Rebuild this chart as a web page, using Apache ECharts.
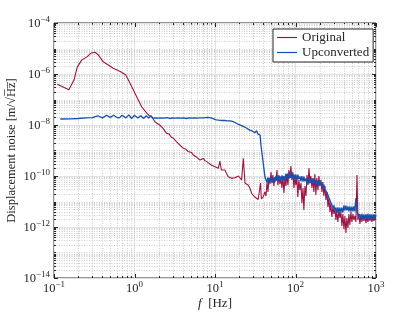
<!DOCTYPE html>
<html><head><meta charset="utf-8">
<script src="https://cdn.jsdelivr.net/npm/echarts@6/dist/echarts.min.js"></script>
<style>html,body{margin:0;padding:0;background:#fff}#c{width:415px;height:312px}</style>
</head><body><div id="c"></div>
<script>
// ---- data ----
const origFreq = [0.11,0.153,0.177,0.195,0.221,0.259,0.286,0.323,0.355,0.409,0.545,0.674,0.78,0.879,0.97,1.064,1.228,1.418,1.52,1.62,
1.79,2.05,2.25,2.5,2.7,2.85,3.05,3.34,3.5,3.66,3.85,4.04,4.3,4.63,4.9,5.1,5.37,5.6,5.86,6.2,6.51,6.8,7.16,7.5,7.88,8.4,8.98,9.5,10.0,10.5,11.0,11.5,12.0,12.6,13.3,14.0,14.6,15.4,16.1,16.9,17.7,18.6,19.5,20.4,21.4,22.5,23.6,24.6,25.8,27.2,28.5,29.8,31.2,32.7,34.4,36.1,36.8,37.7,39.8,41.8,
43.0,44.3,45.5,46.8,48.2,49.6,50.9,52.4,53.9,55.5,57.1,58.8,60.5,62.2,64.0,65.9,67.8,69.8,71.8,73.9,76.0,78.2,80.5,82.8,85.2,87.7,90.2,92.8,95.6,98.3,
101,104,107,110,113.5,117,120,124,127,131,135,139,143,147,151,155,160,165,169,174,179,184,190,195,201,207,213,219,225,232,239,246,253,260,268,275,283,292,
300,309,318,327,336,346,356,367,377,388,400,411,423,435,448,461,474,488,502,517,532,547,563,580,596,614,631,650,669,688,708,729,750,771,794,817,841,865,890,916,943,970,1000];
const origVal = [4.0e-7,2.4e-7,5.8e-7,1.9e-6,3.5e-6,4.8e-6,6.5e-6,7.1e-6,5.6e-6,3.0e-6,1.67e-6,1.23e-6,9.1e-7,4.3e-7,2.36e-7,1.29e-7,5.2e-8,2.9e-8,2.36e-8,2.25e-8,
1.35e-8,1.0e-8,7.5e-9,4.7e-9,4.4e-9,3.4e-9,3.0e-9,2.2e-9,2.05e-9,1.64e-9,1.5e-9,1.22e-9,1.15e-9,9.1e-10,8.0e-10,8.4e-10,6.7e-10,6.2e-10,5.6e-10,5.0e-10,4.2e-10,4.6e-10,4.9e-10,4.0e-10,3.6e-10,3.2e-10,2.7e-10,2.6e-10,2.3e-10,2.2e-10,2.0e-10,3.8e-10,1.72e-10,1.47e-10,1.72e-10,1.2e-10,9.4e-11,9.0e-11,8.1e-11,7.0e-11,8.5e-11,9.4e-11,1.0e-10,1.09e-10,7.0e-11,4.9e-10,5.2e-11,5.6e-11,4.4e-11,3.3e-11,2.1e-11,1.8e-11,1.5e-11,1.3e-11,1.2e-11,1.15e-11,5.3e-11,1.25e-11,1.55e-11,2.4e-11,
1.64e-11,5.8e-11,2.36e-11,8.35e-11,4.9e-11,1.43e-10,5.3e-11,1.09e-10,4.06e-11,9.1e-11,6.4e-11,1.72e-10,4.4e-11,1.09e-10,4.9e-11,7.6e-11,3.4e-11,1.0e-10,2.15e-11,8.35e-11,4.06e-11,1.2e-10,4.4e-11,1.72e-10,8.35e-11,2.46e-10,7.0e-11,1.43e-10,3.4e-11,1.0e-10,
4.4e-11,8.35e-11,1.5e-11,7.0e-11,2.8e-11,5.3e-11,8.7e-12,3.4e-11,4.6e-12,4.06e-11,1.64e-11,1.09e-10,4.4e-11,2.06e-10,5.8e-11,1.0e-10,3.4e-11,8.35e-11,2.36e-11,1.2e-10,1.8e-11,8.35e-11,2.8e-11,1.0e-10,4.06e-11,7.0e-11,2.36e-11,5.8e-11,1.64e-11,4.06e-11,1.15e-11,2.36e-11,6.1e-12,1.37e-11,3.9e-12,8.7e-12,2.47e-12,6.7e-12,
3.23e-12,5.6e-12,1.88e-12,4.2e-12,1.57e-12,4.6e-12,2.25e-12,3.9e-12,1.1e-12,3.23e-12,8.2e-13,2.7e-12,5.8e-13,2.25e-12,9.1e-13,3.23e-12,1.2e-12,3.9e-12,1.57e-12,3.23e-12,1.88e-12,2.7e-12,1.57e-12,1.09e-10,1.88e-12,3.23e-12,1.32e-12,2.7e-12,1.57e-12,2.9e-12,1.72e-12,2.7e-12,1.43e-12,2.47e-12,1.57e-12,2.7e-12,1.72e-12,2.47e-12,1.57e-12,2.47e-12,1.72e-12,2.25e-12,1.88e-12];

const upFreq = [0.12,0.16,0.2,0.25,0.3,0.35,0.4,0.45,0.5,0.55,0.6,0.65,0.7,0.78,0.85,0.92,1.0,1.1,1.2,1.3,1.4,1.5,1.6,
1.7,1.77,1.85,1.92,2.0,2.08,2.16,2.25,2.34,2.43,2.53,2.63,2.74,2.85,2.96,3.08,3.2,3.33,3.46,3.6,3.75,3.9,4.05,4.21,4.38,4.56,4.74,4.93,5.13,5.33,5.55,5.77,6.0,6.24,6.49,6.75,7.02,7.3,7.6,7.9,8.2,8.55,8.9,9.25,9.6,10.0,
10.4,10.8,11.2,11.7,12.2,12.7,13.2,13.7,14.3,14.9,15.5,16.1,16.8,17.5,18.2,18.9,19.7,20.5,21.3,22.2,23.1,24.0,25.0,26.0,27.0,28.1,29.2,30.4,31.6,32.9,34.2,35.2,36.3,37.3,39.5,41.8,
43.0,44.3,45.5,46.8,48.2,49.6,50.9,52.4,53.9,55.5,57.1,58.8,60.5,62.2,64.0,65.9,67.8,69.8,71.8,73.9,76.0,78.2,80.5,82.8,85.2,87.7,90.2,92.8,95.6,98.3,
101,104,107,110,113.5,117,120,124,127,131,135,139,143,147,151,155,160,165,169,174,179,184,190,195,201,207,213,219,225,232,239,246,253,260,268,275,283,292,
300,309,318,327,336,346,356,367,377,388,400,411,423,435,448,461,474,488,502,517,532,547,563,580,596,614,631,650,669,688,708,729,750,771,794,817,841,865,890,916,943,970,1000];
const upVal = [1.72e-8,1.75e-8,1.8e-8,1.9e-8,1.95e-8,2.3e-8,1.9e-8,2.4e-8,2.0e-8,2.4e-8,2.0e-8,1.9e-8,2.4e-8,1.9e-8,2.5e-8,1.8e-8,2.4e-8,1.9e-8,2.3e-8,1.8e-8,2.3e-8,1.9e-8,2.2e-8,
1.85e-8,2.05e-8,1.9e-8,2.1e-8,1.85e-8,2.0e-8,1.9e-8,2.15e-8,1.85e-8,2.05e-8,1.95e-8,2.1e-8,1.8e-8,2.05e-8,1.9e-8,2.2e-8,1.85e-8,2.05e-8,1.9e-8,2.1e-8,1.85e-8,2.0e-8,1.9e-8,2.15e-8,1.8e-8,2.05e-8,1.9e-8,2.1e-8,1.85e-8,2.0e-8,1.9e-8,2.2e-8,1.85e-8,2.05e-8,1.9e-8,2.15e-8,1.9e-8,2.2e-8,1.95e-8,2.3e-8,2.0e-8,2.25e-8,1.9e-8,2.1e-8,1.75e-8,1.95e-8,
1.6e-8,1.8e-8,1.55e-8,1.75e-8,1.5e-8,1.75e-8,1.5e-8,1.7e-8,1.45e-8,1.7e-8,1.45e-8,1.6e-8,1.35e-8,1.5e-8,1.2e-8,1.4e-8,1.05e-8,1.25e-8,9.5e-9,1.1e-8,8.5e-9,9.6e-9,7.3e-9,8.5e-9,6.3e-9,7.3e-9,5.7e-9,6.7e-9,5.0e-9,6.0e-9,4.4e-9,5.0e-9,4.0e-9,1.53e-9,3.7e-10,9.1e-11,
8.7e-11,5.6e-11,8.9e-11,5.4e-11,8.5e-11,5.7e-11,9.0e-11,5.5e-11,8.7e-11,5.8e-11,1.0e-10,6.4e-11,1.02e-10,6.2e-11,9.8e-11,6.5e-11,1.05e-10,6.3e-11,1.0e-10,6.6e-11,1.25e-10,8.0e-11,1.28e-10,7.8e-11,1.3e-10,8.2e-11,1.24e-10,7.9e-11,1.15e-10,7.3e-11,
1.17e-10,7.2e-11,1.12e-10,7.4e-11,9.6e-11,6.1e-11,9.8e-11,6.0e-11,9.4e-11,6.2e-11,8.0e-11,5.1e-11,8.2e-11,5.0e-11,7.8e-11,5.2e-11,8.1e-11,5.0e-11,7.9e-11,5.1e-11,6.7e-11,4.2e-11,6.8e-11,4.1e-11,6.6e-11,4.3e-11,5.6e-11,3.5e-11,4.6e-11,3.0e-11,3.5e-11,2.25e-11,2.25e-11,1.44e-11,1.44e-11,9.1e-12,9.1e-12,5.8e-12,
7.0e-12,4.4e-12,5.8e-12,3.7e-12,5.9e-12,3.6e-12,5.7e-12,3.8e-12,5.8e-12,3.7e-12,7.0e-12,4.4e-12,6.9e-12,4.5e-12,6.4e-12,4.1e-12,6.5e-12,4.0e-12,6.3e-12,4.1e-12,6.4e-12,4.1e-12,1.37e-11,4.0e-12,4.1e-12,2.6e-12,3.2e-12,2.06e-12,3.3e-12,2.0e-12,3.1e-12,2.1e-12,3.2e-12,2.05e-12,3.3e-12,2.0e-12,3.2e-12,2.1e-12,3.1e-12,2.05e-12,3.2e-12,2.1e-12,3.0e-12];

const seriesNames = ['Original', 'Upconverted'];
const xTickExp = [-1, 0, 1, 2, 3];
const yTickExp = [-14, -12, -10, -8, -6, -4];
const minorMult = [2, 3, 4, 5, 6, 7, 8, 9];

// ---- chart ----
const FONT = "'Liberation Serif','DejaVu Serif',serif";
const TXT = '#262626';
const RED = '#9E1446', BLUE = '#1651AB';
const xMin = Math.pow(10, xTickExp[0]), xMax = Math.pow(10, xTickExp[xTickExp.length - 1]);
const yMin = Math.pow(10, yTickExp[0]), yMax = Math.pow(10, yTickExp[yTickExp.length - 1]);

// minor positions (axis decoration, not data)
const xMinorVals = [];
for (let k = xTickExp[0]; k < xTickExp[xTickExp.length - 1]; k++) minorMult.forEach(m => xMinorVals.push(m * Math.pow(10, k)));
const yMinorVals = [];
for (let k = yTickExp[0]; k < yTickExp[yTickExp.length - 1]; k++) {
  if (yTickExp.indexOf(k) < 0) yMinorVals.push(Math.pow(10, k));
  minorMult.forEach(m => yMinorVals.push(m * Math.pow(10, k)));
}

function expLabel(v) {
  const e = Math.round(Math.log10(v));
  return '{b|10}{e|' + (e < 0 ? '\u2212' : '') + Math.abs(e) + '}';
}
const richLab = {
  b: { fontFamily: FONT, fontSize: 12.5, color: TXT, verticalAlign: 'bottom', lineHeight: 14 },
  e: { fontFamily: FONT, fontSize: 9, color: TXT, verticalAlign: 'bottom', lineHeight: 10, padding: [0, 0, 6, 0] }
};

const chart = echarts.init(document.getElementById('c'), null, { renderer: 'canvas' });
chart.setOption({
  animation: false,
  backgroundColor: '#fff',
  grid: { left: 54, top: 23, right: 39, bottom: 34, outerBoundsMode: 'none', containLabel: false,
          show: true, borderColor: TXT, borderWidth: 1, backgroundColor: '#fff' },
  legend: {
    data: seriesNames, left: 273, top: 29, orient: 'vertical', icon: 'rect',
    itemWidth: 20, itemHeight: 1.2, itemGap: 0, padding: [1, 4, 2, 4],
    borderColor: TXT, borderWidth: 1, backgroundColor: '#fff', borderRadius: 0,
    textStyle: { fontFamily: FONT, fontSize: 13, color: TXT, lineHeight: 15 }
  },
  xAxis: {
    type: 'log', logBase: 10, min: xMin, max: xMax, splitNumber: 4,
    name: '{i|f}  [Hz]', nameLocation: 'middle', nameGap: 19, nameMoveOverlap: false,
    nameTextStyle: { fontFamily: FONT, fontSize: 13, color: TXT, rich: { i: { fontFamily: FONT, fontSize: 13, fontStyle: 'italic', color: TXT } } },
    axisLine: { show: false }, axisTick: { show: false },
    axisLabel: { formatter: expLabel, rich: richLab, margin: 3, hideOverlap: false, showMinLabel: true, showMaxLabel: true },
    splitLine: { show: true, lineStyle: { color: '#e2e2e2', width: 1 } }
  },
  yAxis: {
    type: 'log', logBase: 10, min: yMin, max: yMax, splitNumber: 5, interval: 2,
    name: 'Displacement noise [m/\u221AH\u0305z\u0305]', nameLocation: 'middle', nameGap: 36, nameMoveOverlap: false,
    nameTextStyle: { fontFamily: FONT, fontSize: 12.5, color: TXT },
    axisLine: { show: false }, axisTick: { show: false },
    axisLabel: { formatter: expLabel, rich: richLab, margin: 4, hideOverlap: false, showMinLabel: true, showMaxLabel: true },
    splitLine: { show: true, lineStyle: { color: '#e2e2e2', width: 1 } }
  },
  series: [
    {
      type: 'custom', silent: true, z: 1, data: [[1, 1e-8]],
      renderItem: function (params, api) {
        const ch = [];
        const pA = api.coord([xMin, yMin]), pB = api.coord([xMax, yMax]);
        const L = pA[0], B = pA[1], R = pB[0], T = pB[1];
        const dot = { stroke: '#cdcdcd', lineWidth: 1, lineDash: [1, 1.5] };
        const tk = { stroke: TXT, lineWidth: 1 };
        xMinorVals.forEach(v => {
          const x = Math.round(api.coord([v, yMin])[0]) + 0.5;
          ch.push({ type: 'line', shape: { x1: x, y1: T, x2: x, y2: B }, style: dot });
          ch.push({ type: 'line', shape: { x1: x, y1: B, x2: x, y2: B - 2 }, style: tk });
          ch.push({ type: 'line', shape: { x1: x, y1: T, x2: x, y2: T + 2 }, style: tk });
        });
        yMinorVals.forEach(v => {
          const y = Math.round(api.coord([xMin, v])[1]) + 0.5;
          ch.push({ type: 'line', shape: { x1: L, y1: y, x2: R, y2: y }, style: dot });
          ch.push({ type: 'line', shape: { x1: L, y1: y, x2: L + 2, y2: y }, style: tk });
          ch.push({ type: 'line', shape: { x1: R, y1: y, x2: R - 2, y2: y }, style: tk });
        });
        xTickExp.forEach(e => {
          const x = Math.round(api.coord([Math.pow(10, e), yMin])[0]) + 0.5;
          ch.push({ type: 'line', shape: { x1: x, y1: B, x2: x, y2: B - 4 }, style: tk });
          ch.push({ type: 'line', shape: { x1: x, y1: T, x2: x, y2: T + 4 }, style: tk });
        });
        yTickExp.forEach(e => {
          const y = Math.round(api.coord([xMin, Math.pow(10, e)])[1]) + 0.5;
          ch.push({ type: 'line', shape: { x1: L, y1: y, x2: L + 4, y2: y }, style: tk });
          ch.push({ type: 'line', shape: { x1: R, y1: y, x2: R - 4, y2: y }, style: tk });
        });
        return { type: 'group', children: ch };
      }
    },
    {
      name: seriesNames[0], type: 'line', z: 3, showSymbol: false, symbol: 'none',
      lineStyle: { color: RED, width: 1.1 }, itemStyle: { color: RED },
      data: origFreq.map((f, i) => [f, origVal[i]])
    },
    {
      name: seriesNames[1], type: 'line', z: 4, showSymbol: false, symbol: 'none',
      lineStyle: { color: BLUE, width: 1.3 }, itemStyle: { color: BLUE },
      data: upFreq.map((f, i) => [f, upVal[i]])
    }
  ]
});
</script></body></html>
